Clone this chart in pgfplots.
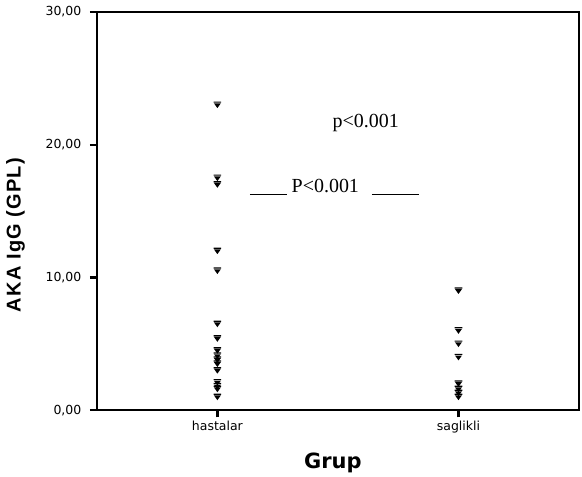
\documentclass[border=0pt]{standalone}
\usepackage{fontspec}
\setmainfont{DejaVu Sans}
\newfontfamily\timesf{Liberation Serif}
\newfontfamily\arialf[LetterSpace=6]{Liberation Sans}
\usepackage{pgfplots}
\pgfplotsset{compat=1.18}

% SPSS-like marker: bar on top, filled triangle pointing down
\pgfdeclareplotmark{spss}{%
  \pgfpathrectangle{\pgfqpoint{-3.8pt}{2.2pt}}{\pgfqpoint{7.6pt}{1.2pt}}%
  \pgfpathmoveto{\pgfqpoint{-3.4pt}{1.6pt}}%
  \pgfpathlineto{\pgfqpoint{3.4pt}{1.6pt}}%
  \pgfpathlineto{\pgfqpoint{0pt}{-3.2pt}}%
  \pgfpathclose
  \pgfusepathqfill}

\begin{document}
\begin{tikzpicture}
\begin{axis}[name=ax,scale only axis,width=483pt,height=399pt,
  xmin=0.5,xmax=2.5,ymin=0,ymax=30,
  xtick={1,2},xticklabels={hastalar,saglikli},
  ytick={0,10,20,30},
  yticklabel style={xshift=-5pt,/pgf/number format/fixed,/pgf/number format/fixed zerofill,
    /pgf/number format/precision=2,/pgf/number format/use comma,/pgf/number format/assume math mode=true},
  tick label style={font=\fontsize{12.5}{14}\selectfont},
  tick align=outside,tick pos=left,major tick length=7pt,
  every tick/.style={black,line width=2.4pt},
  axis line style={line width=1.6pt},
  xlabel={\fontsize{21}{24}\selectfont\bfseries Grup},
  ylabel={\arialf\fontsize{20}{22}\selectfont\bfseries AKA IgG (GPL)},
  xlabel style={yshift=-13pt,xshift=-5pt},
  ylabel style={yshift=14pt,xshift=-24pt},
  clip=false]
\addplot[only marks,mark=spss,black] coordinates {
(1,23.0) (1,17.5) (1,17.0) (1,12.0) (1,10.5) (1,6.5) (1,5.4) (1,4.5) (1,4.1) (1,3.8) (1,3.5) (1,3.0) (1,2.1) (1,1.8) (1,1.6) (1,1.0)};
\addplot[only marks,mark=spss,black] coordinates {
(2,9.0) (2,6.0) (2,5.0) (2,4.0) (2,2.0) (2,1.6) (2,1.3) (2,1.0)};
\node[font=\timesf\fontsize{20}{22}\selectfont,anchor=base west,inner sep=0pt] at (axis cs:1.477,21.28) {p<0.001};
\node[font=\timesf\fontsize{20}{22}\selectfont,anchor=base west,inner sep=0pt] at (axis cs:1.1335,16.39)
  {\rule[-2.5pt]{37pt}{1pt}\hspace{5pt}P<0.001\hspace{13pt}\rule[-2.5pt]{47pt}{1pt}};
\end{axis}
\pgfresetboundingbox
\path ([shift={(-97pt,-66pt)}]ax.south west) rectangle ([shift={(3pt,12pt)}]ax.north east);
\end{tikzpicture}
\end{document}
